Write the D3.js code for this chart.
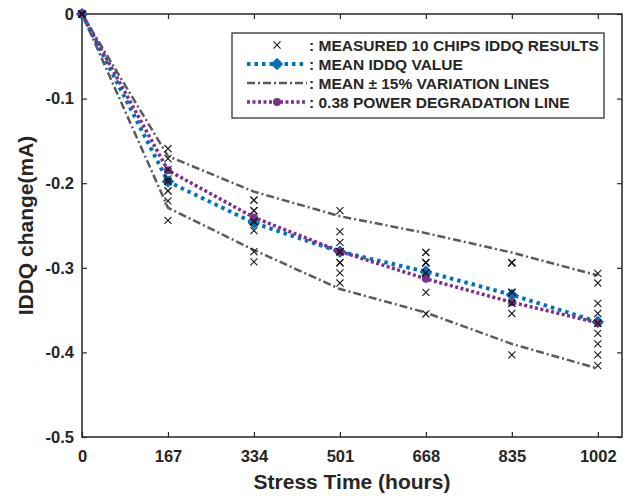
<!DOCTYPE html>
<html>
<head>
<meta charset="utf-8">
<script src="https://cdn.jsdelivr.net/npm/d3@7"></script>
<style>
  body { margin: 0; background: #fff; }
  text { font-family: "Liberation Sans", Arial, sans-serif; font-weight: bold; fill: #262626; }
</style>
</head>
<body>
<div id="vis"></div>
<script>
// stress times (hours)
var times = [0, 167, 334, 501, 668, 835, 1002];

// measured iddq change of 10 chips at each time (mA)
var chips = [
  [0, 0, 0, 0, 0, 0, 0, 0, 0, 0],
  [-0.159, -0.171, -0.184, -0.195, -0.209, -0.221, -0.244, -0.198, -0.198, -0.209],
  [-0.220, -0.2325, -0.2455, -0.256, -0.281, -0.293, -0.2325, -0.2455, -0.2455, -0.220],
  [-0.2325, -0.2573, -0.270, -0.281, -0.294, -0.306, -0.318, -0.281, -0.281, -0.294],
  [-0.2817, -0.294, -0.306, -0.329, -0.3546, -0.2817, -0.294, -0.294, -0.306, -0.306],
  [-0.294, -0.329, -0.342, -0.354, -0.403, -0.294, -0.329, -0.329, -0.342, -0.294],
  [-0.3065, -0.318, -0.342, -0.354, -0.3656, -0.3775, -0.390, -0.403, -0.4157, -0.3656]
];

var meanValues = [0, -0.198, -0.247, -0.281, -0.3046, -0.332, -0.364];
var upperValues = [0, -0.168, -0.210, -0.239, -0.259, -0.282, -0.309];
var lowerValues = [0, -0.229, -0.279, -0.325, -0.353, -0.390, -0.419];
var powerValues = [0, -0.1848, -0.2405, -0.2806, -0.313, -0.3407, -0.365];

var yTicks = [0, -0.1, -0.2, -0.3, -0.4, -0.5];
var legendLabels = [
  ": MEASURED 10 CHIPS IDDQ RESULTS",
  ": MEAN IDDQ VALUE",
  ": MEAN \u00b1 15% VARIATION LINES",
  ": 0.38 POWER DEGRADATION LINE"
];

var width = 626, height = 496;
var margin = { top: 14, left: 82, right: 4, bottom: 59 };

var blue = "#0072BD", purple = "#7E2F8E", gray = "#5a5a5a", axisColor = "#262626";

var svg = d3.select("#vis").append("svg")
    .attr("width", width)
    .attr("height", height);

var x = d3.scaleLinear().domain([0, 1049]).range([margin.left, width - margin.right]);
var y = d3.scaleLinear().domain([-0.5, 0]).range([height - margin.bottom, margin.top]);

// axes with inward ticks (box on)
svg.append("g")
    .attr("transform", "translate(0," + y(-0.5) + ")")
    .call(d3.axisBottom(x).tickValues(times).tickSize(-5).tickPadding(10).tickFormat(d3.format("d")))
    .call(function(g) { g.select(".domain").remove(); })
    .call(function(g) { g.selectAll("text").style("font-size", "16.5px").attr("dy", "0.9em"); });

svg.append("g")
    .attr("transform", "translate(0," + y(0) + ")")
    .call(d3.axisTop(x).tickValues(times).tickSize(-5).tickFormat(""))
    .call(function(g) { g.select(".domain").remove(); });

svg.append("g")
    .attr("transform", "translate(" + x(0) + ",0)")
    .call(d3.axisLeft(y).tickValues(yTicks).tickSize(-5).tickPadding(8).tickFormat(function(d) { return d === 0 ? "0" : d.toFixed(1); }))
    .call(function(g) { g.select(".domain").remove(); })
    .call(function(g) { g.selectAll("text").style("font-size", "16.5px"); });

svg.append("g")
    .attr("transform", "translate(" + x.range()[1] + ",0)")
    .call(d3.axisRight(y).tickValues(yTicks).tickSize(-5).tickFormat(""))
    .call(function(g) { g.select(".domain").remove(); });

svg.selectAll(".tick line").attr("stroke", axisColor).attr("stroke-width", 1.2);

svg.append("rect")
    .attr("x", x.range()[0])
    .attr("y", y.range()[1])
    .attr("width", x.range()[1] - x.range()[0])
    .attr("height", y.range()[0] - y.range()[1])
    .attr("fill", "none")
    .attr("stroke", axisColor)
    .attr("stroke-width", 1.5);

// axis titles
svg.append("text")
    .attr("x", (x.range()[0] + x.range()[1]) / 2)
    .attr("y", 489)
    .attr("text-anchor", "middle")
    .style("font-size", "21px")
    .text("Stress Time (hours)");

svg.append("text")
    .attr("transform", "translate(33," + ((y.range()[0] + y.range()[1]) / 2) + ") rotate(-90)")
    .attr("text-anchor", "middle")
    .style("font-size", "21px")
    .text("IDDQ change(mA)");

function series(vals) {
    return times.map(function(t, i) { return [t, vals[i]]; });
}
var line = d3.line().x(function(d) { return x(d[0]); }).y(function(d) { return y(d[1]); });

// variation lines
[upperValues, lowerValues].forEach(function(vals) {
    svg.append("path")
        .datum(series(vals))
        .attr("d", line)
        .attr("fill", "none")
        .attr("stroke", gray)
        .attr("stroke-width", 2.5)
        .attr("stroke-dasharray", "8,3,2,3");
});

// mean line
svg.append("path")
    .datum(series(meanValues))
    .attr("d", line)
    .attr("fill", "none")
    .attr("stroke", blue)
    .attr("stroke-width", 4)
    .attr("stroke-dasharray", "3.5,4");

// matlab style diamond: square turned 45 degrees
var diamond = d3.symbol().type(d3.symbolSquare).size(48);
svg.selectAll(".meanpt")
    .data(series(meanValues))
    .enter().append("path")
    .attr("class", "meanpt")
    .attr("transform", function(d) { return "translate(" + x(d[0]) + "," + y(d[1]) + ") rotate(45)"; })
    .attr("d", diamond)
    .attr("fill", blue)
    .attr("stroke", blue)
    .attr("stroke-linejoin", "round")
    .attr("stroke-width", 2);

// power degradation line
svg.append("path")
    .datum(series(powerValues))
    .attr("d", line)
    .attr("fill", "none")
    .attr("stroke", purple)
    .attr("stroke-width", 3.5)
    .attr("stroke-dasharray", "3,2.5");

svg.selectAll(".powpt")
    .data(series(powerValues))
    .enter().append("circle")
    .attr("class", "powpt")
    .attr("cx", function(d) { return x(d[0]); })
    .attr("cy", function(d) { return y(d[1]); })
    .attr("r", 4)
    .attr("fill", purple);

// measured chips
var xMark = d3.symbol().type(d3.symbolX).size(34);
var chipPts = [];
chips.forEach(function(vals, i) {
    vals.forEach(function(v) { chipPts.push([times[i], v]); });
});
svg.selectAll(".chip")
    .data(chipPts)
    .enter().append("path")
    .attr("class", "chip")
    .attr("transform", function(d) { return "translate(" + x(d[0]) + "," + y(d[1]) + ")"; })
    .attr("d", xMark)
    .attr("fill", "none")
    .attr("stroke", "#1a1a1a")
    .attr("stroke-width", 1.1);

// legend
var legend = svg.append("g").attr("transform", "translate(232,33)");
legend.append("rect")
    .attr("width", 372)
    .attr("height", 85)
    .attr("fill", "#fff")
    .attr("stroke", "#333")
    .attr("stroke-width", 1.3);

var rowY = [12, 31, 50, 69];
legend.selectAll(".ltext")
    .data(legendLabels)
    .enter().append("text")
    .attr("x", 77)
    .attr("y", function(d, i) { return rowY[i]; })
    .attr("dy", "0.36em")
    .style("font-size", "15.5px")
    .text(function(d) { return d; });

legend.append("path")
    .attr("transform", "translate(45," + rowY[0] + ")")
    .attr("d", xMark)
    .attr("fill", "none")
    .attr("stroke", "#1a1a1a")
    .attr("stroke-width", 1.1);

legend.append("line")
    .attr("x1", 15).attr("x2", 75).attr("y1", rowY[1]).attr("y2", rowY[1])
    .attr("stroke", blue).attr("stroke-width", 4).attr("stroke-dasharray", "3.5,4");
legend.append("path")
    .attr("transform", "translate(45," + rowY[1] + ") rotate(45)")
    .attr("d", diamond)
    .attr("fill", blue).attr("stroke", blue).attr("stroke-linejoin", "round").attr("stroke-width", 2);

legend.append("line")
    .attr("x1", 15).attr("x2", 75).attr("y1", rowY[2]).attr("y2", rowY[2])
    .attr("stroke", gray).attr("stroke-width", 2.5).attr("stroke-dasharray", "8,3,2,3");

legend.append("line")
    .attr("x1", 15).attr("x2", 75).attr("y1", rowY[3]).attr("y2", rowY[3])
    .attr("stroke", purple).attr("stroke-width", 3.5).attr("stroke-dasharray", "3,2.5");
legend.append("circle")
    .attr("cx", 45).attr("cy", rowY[3]).attr("r", 4)
    .attr("fill", purple);
</script>
</body>
</html>
